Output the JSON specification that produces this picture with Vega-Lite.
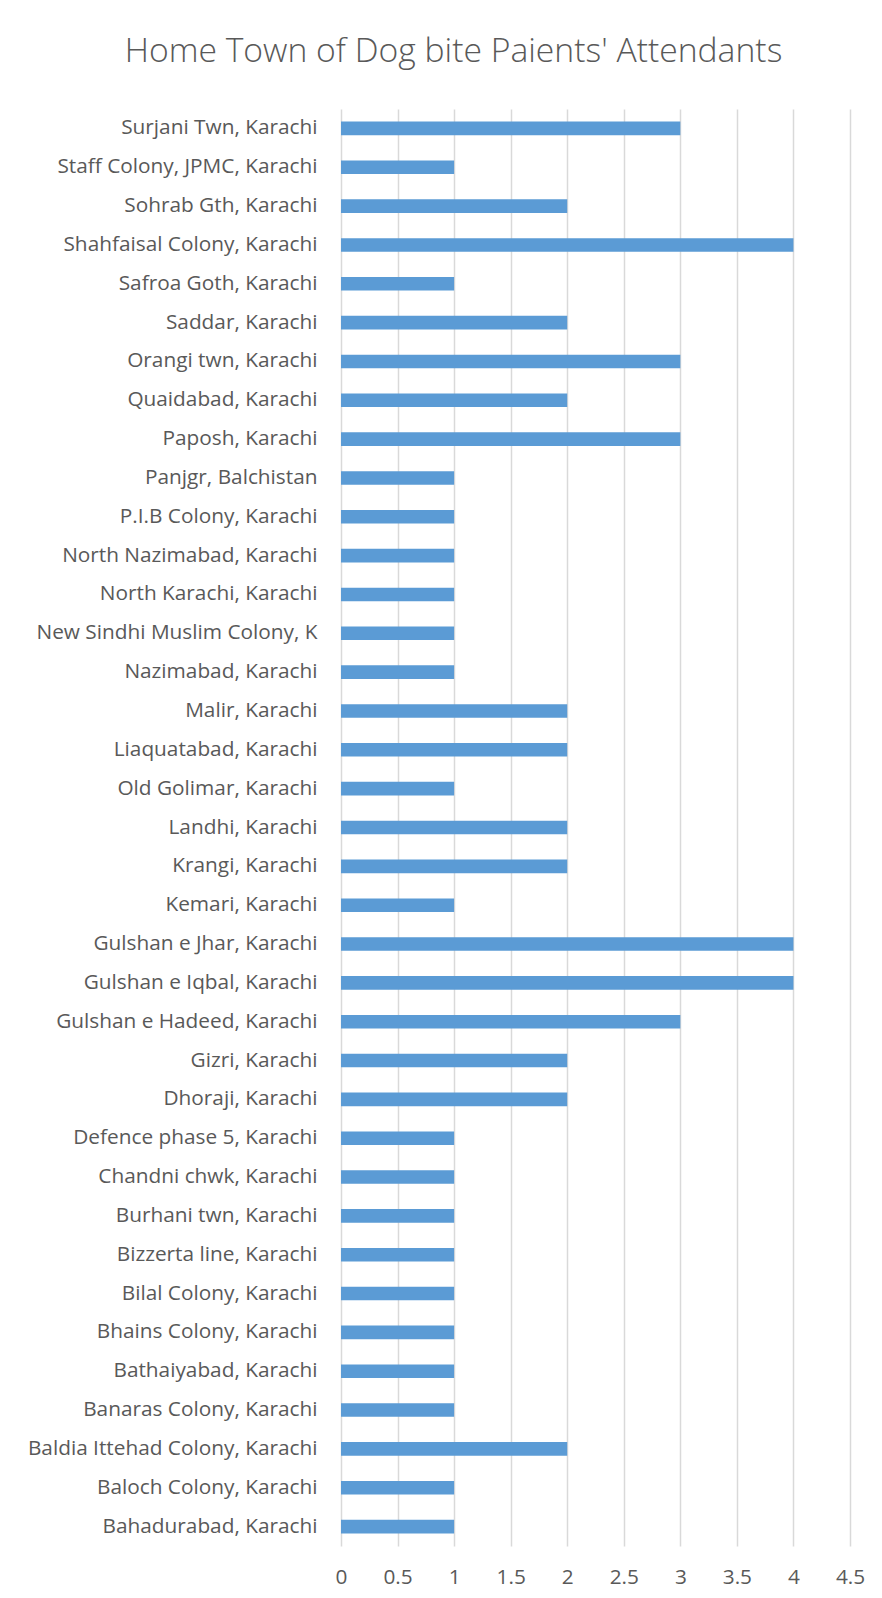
{
  "$schema": "https://vega.github.io/schema/vega-lite/v6.json",
  "width": 509,
  "height": 1437,
  "autosize": {"type": "none"},
  "padding": {"left": 341, "top": 109, "right": 32, "bottom": 52},
  "background": "white",
  "title": {
    "text": "Home Town of Dog bite Paients' Attendants",
    "font": "Open Sans",
    "fontSize": 33.7,
    "fontWeight": 300,
    "color": "#595959",
    "anchor": "middle",
    "baseline": "alphabetic",
    "offset": 46,
    "dx": -142,
    "dy": 33
  },
  "config": {
    "view": {"stroke": null},
    "font": "Open Sans"
  },
  "data": {
    "values": [
      {"town": "Surjani Twn, Karachi", "count": 3},
      {"town": "Staff Colony, JPMC, Karachi", "count": 1},
      {"town": "Sohrab Gth, Karachi", "count": 2},
      {"town": "Shahfaisal Colony, Karachi", "count": 4},
      {"town": "Safroa Goth, Karachi", "count": 1},
      {"town": "Saddar, Karachi", "count": 2},
      {"town": "Orangi twn, Karachi", "count": 3},
      {"town": "Quaidabad, Karachi", "count": 2},
      {"town": "Paposh, Karachi", "count": 3},
      {"town": "Panjgr, Balchistan", "count": 1},
      {"town": "P.I.B Colony, Karachi", "count": 1},
      {"town": "North Nazimabad, Karachi", "count": 1},
      {"town": "North Karachi, Karachi", "count": 1},
      {"town": "New Sindhi Muslim Colony, K", "count": 1},
      {"town": "Nazimabad, Karachi", "count": 1},
      {"town": "Malir, Karachi", "count": 2},
      {"town": "Liaquatabad, Karachi", "count": 2},
      {"town": "Old Golimar, Karachi", "count": 1},
      {"town": "Landhi, Karachi", "count": 2},
      {"town": "Krangi, Karachi", "count": 2},
      {"town": "Kemari, Karachi", "count": 1},
      {"town": "Gulshan e Jhar, Karachi", "count": 4},
      {"town": "Gulshan e Iqbal, Karachi", "count": 4},
      {"town": "Gulshan e Hadeed, Karachi", "count": 3},
      {"town": "Gizri, Karachi", "count": 2},
      {"town": "Dhoraji, Karachi", "count": 2},
      {"town": "Defence phase 5, Karachi", "count": 1},
      {"town": "Chandni chwk, Karachi", "count": 1},
      {"town": "Burhani twn, Karachi", "count": 1},
      {"town": "Bizzerta line, Karachi", "count": 1},
      {"town": "Bilal Colony, Karachi", "count": 1},
      {"town": "Bhains Colony, Karachi", "count": 1},
      {"town": "Bathaiyabad, Karachi", "count": 1},
      {"town": "Banaras Colony, Karachi", "count": 1},
      {"town": "Baldia Ittehad Colony, Karachi", "count": 2},
      {"town": "Baloch Colony, Karachi", "count": 1},
      {"town": "Bahadurabad, Karachi", "count": 1}
    ]
  },
  "mark": {"type": "bar", "color": "#5B9BD5"},
  "encoding": {
    "y": {
      "field": "town",
      "type": "nominal",
      "sort": null,
      "title": null,
      "scale": {"paddingInner": 0.65, "paddingOuter": 0.325},
      "axis": {
        "domain": false,
        "ticks": false,
        "grid": false,
        "labelPadding": 24,
        "labelFontSize": 20.8,
        "labelColor": "#595959",
        "labelFont": "Open Sans",
        "labelLimit": 400
      }
    },
    "x": {
      "field": "count",
      "type": "quantitative",
      "title": null,
      "scale": {"domain": [0, 4.5], "nice": false},
      "axis": {
        "values": [0, 0.5, 1, 1.5, 2, 2.5, 3, 3.5, 4, 4.5],
        "labelExpr": "'' + datum.value",
        "domain": false,
        "ticks": false,
        "grid": true,
        "gridColor": "#D9D9D9",
        "gridWidth": 1.5,
        "labelPadding": 21,
        "labelFontSize": 20.8,
        "labelColor": "#595959",
        "labelFont": "Open Sans",
        "labelFlush": false
      }
    }
  }
}
